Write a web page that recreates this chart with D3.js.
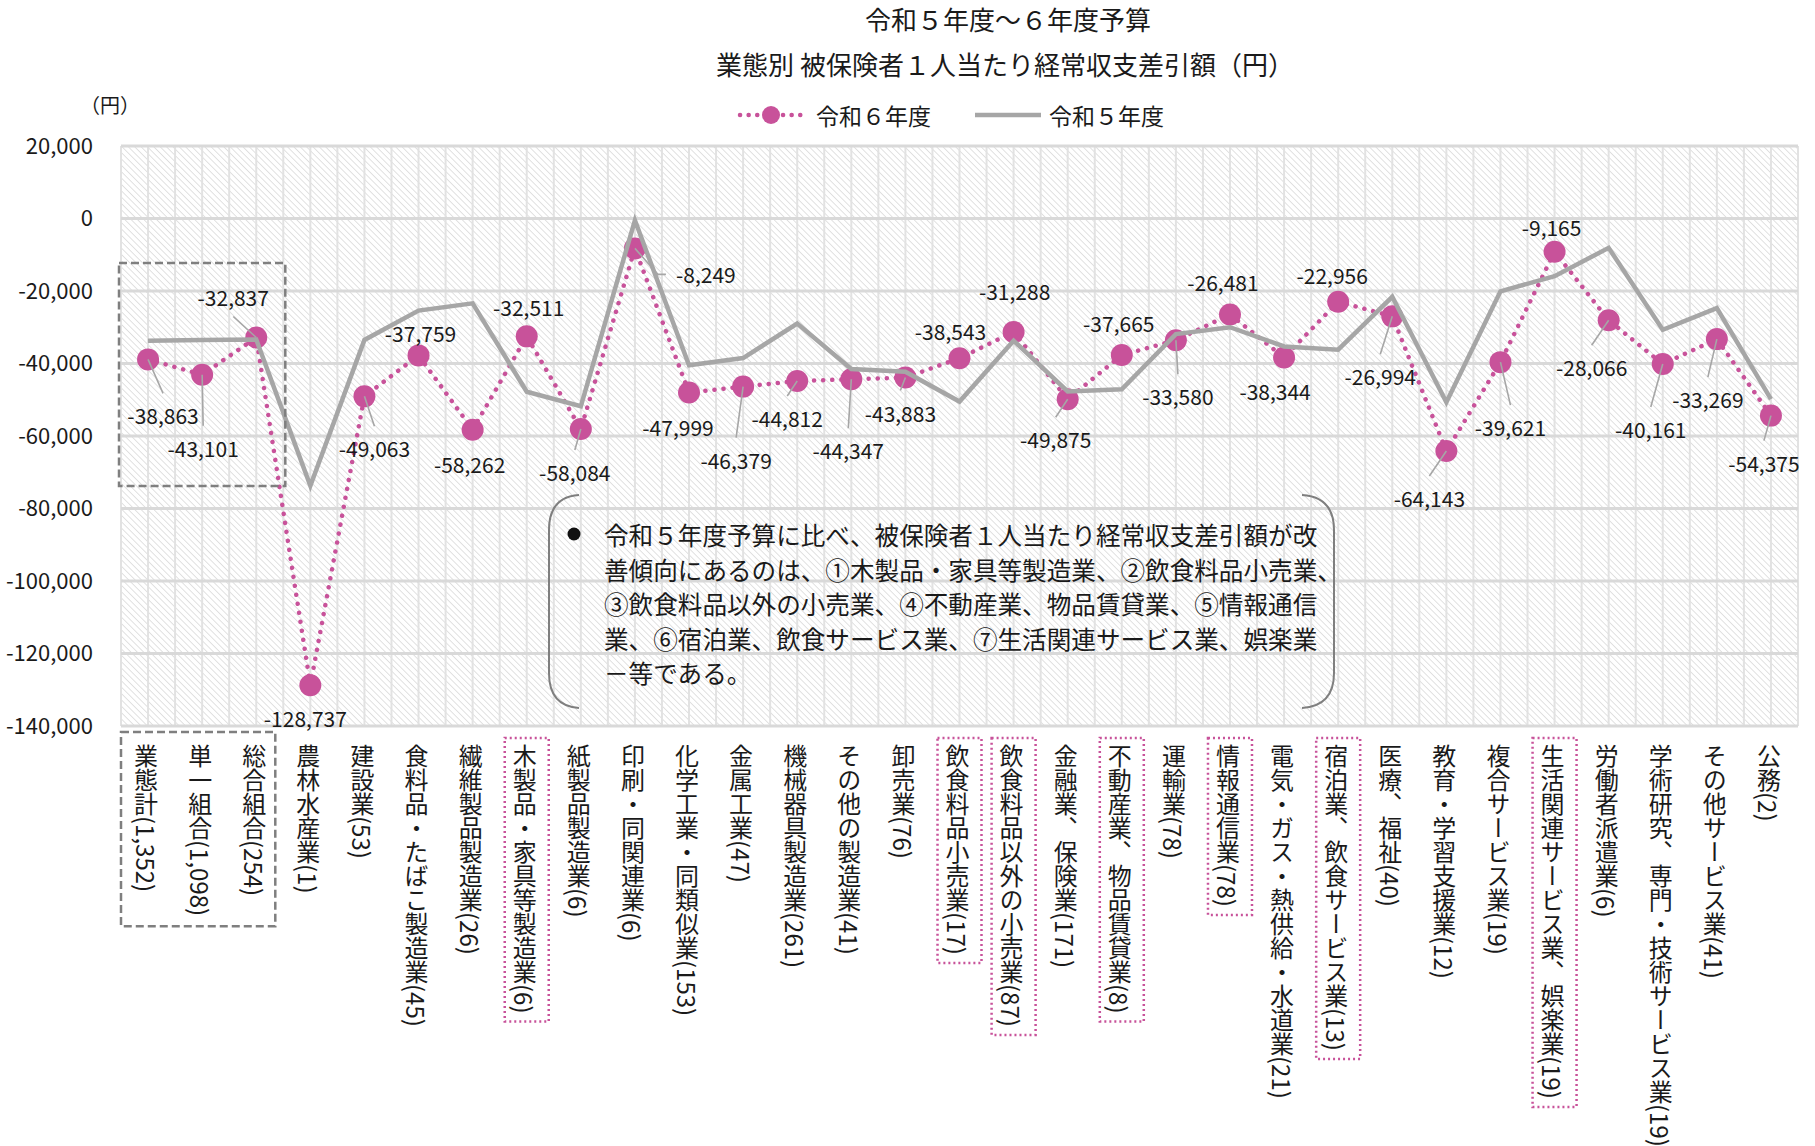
<!DOCTYPE html>
<html>
<head>
<meta charset="utf-8">
<script src="https://cdn.jsdelivr.net/npm/d3@7/dist/d3.min.js"></script>
<style>
  html, body { margin: 0; padding: 0; background: #fff; }
  svg text { font-family: "Noto Sans CJK JP", "Noto Sans", sans-serif; fill: #1a1a1a; }
  .vlabel { writing-mode: vertical-rl; }
</style>
</head>
<body>
<svg id="chart" width="1815" height="1146"></svg>
<script>
// ── データ ──────────────────────────────────────────
const categories = [
  '業態計', '単一組合', '総合組合', '農林水産業', '建設業', '食料品・たばこ製造業',
  '繊維製品製造業', '木製品・家具等製造業', '紙製品製造業', '印刷・同関連業',
  '化学工業・同類似業', '金属工業', '機械器具製造業', 'その他の製造業', '卸売業',
  '飲食料品小売業', '飲食料品以外の小売業', '金融業、保険業', '不動産業、物品賃貸業',
  '運輸業', '情報通信業', '電気・ガス・熱供給・水道業', '宿泊業、飲食サービス業',
  '医療、福祉', '教育・学習支援業', '複合サービス業', '生活関連サービス業、娯楽業',
  '労働者派遣業', '学術研究、専門・技術サービス業', 'その他サービス業', '公務'
];
const counts = [
  '1,352', '1,098', '254', '1', '53', '45', '26', '6', '6', '6', '153', '47', '261', '41', '76',
  '17', '87', '171', '8', '78', '78', '21', '13', '40', '12', '19', '19', '6', '19', '41', '2'
];
// 令和6年度
const r6 = [
  -38863, -43101, -32837, -128737, -49063, -37759, -58262, -32511, -58084, -8249,
  -47999, -46379, -44812, -44347, -43883, -38543, -31288, -49875, -37665, -33580,
  -26481, -38344, -22956, -26994, -64143, -39621, -9165, -28066, -40161, -33269, -54375
];
// 令和5年度
const r5 = [
  -33700, -33500, -33400, -73700, -33500, -25400, -23400, -47800, -51800, -500,
  -40500, -38500, -29000, -41500, -42300, -50500, -33700, -47700, -47100, -31900,
  -30000, -35300, -36200, -21600, -50700, -20100, -15900, -8100, -30700, -24700, -49800
];
// 改善傾向の業態
const highlighted = [
  '木製品・家具等製造業', '飲食料品小売業', '飲食料品以外の小売業', '不動産業、物品賃貸業',
  '情報通信業', '宿泊業、飲食サービス業', '生活関連サービス業、娯楽業'
];
const groupedCats = ['業態計', '単一組合', '総合組合'];
const yTicks = [20000, 0, -20000, -40000, -60000, -80000, -100000, -120000, -140000];
const yTickLabels = ['20,000', '0', '-20,000', '-40,000', '-60,000', '-80,000', '-100,000', '-120,000', '-140,000'];
const seriesNames = ['令和６年度', '令和５年度'];
const noteLines = [
  '令和５年度予算に比べ、被保険者１人当たり経常収支差引額が改',
  '善傾向にあるのは、①木製品・家具等製造業、②飲食料品小売業、',
  '③飲食料品以外の小売業、④不動産業、物品賃貸業、⑤情報通信',
  '業、⑥宿泊業、飲食サービス業、⑦生活関連サービス業、娯楽業',
  '－等である。'
];

// データラベルの配置 [dx, dy, 引出線]
const labelOffsets = [
  [15, 56, 1], [1, 73, 1], [-23, -41, 1], [-5, 33, 0], [10, 52, 1], [2, -22, 0],
  [-3, 34, 0], [2, -29, 0], [-6, 43, 1], [71, 26, 2], [-11, 35, 0], [-7, 73, 1],
  [-10, 37, 1], [-3, 71, 1], [-5, 35, 1], [-9, -27, 0], [1, -41, 0], [-12, 40, 1],
  [-3, -32, 0], [2, 56, 1], [-7, -32, 0], [-9, 34, 0], [-6, -27, 0], [-12, 60, 1],
  [-17, 47, 1], [10, 65, 1], [-3, -25, 0], [-17, 47, 1], [-12, 65, 1], [-9, 60, 1], [-7, 47, 1]
];

// ── レイアウト ──────────────────────────────────────
const PINK = '#c8529a', GRAY = '#a6a6a6';
const plot = { left: 121, right: 1798, top: 146, bottom: 726 };
const svg = d3.select('#chart');
const fmt = d3.formatLocale({ decimal: '.', thousands: ',', grouping: [3], currency: ['', ''], minus: '-' }).format(',');

const x = d3.scaleBand().domain(categories).range([plot.left, plot.right]).padding(0);
const y = d3.scaleLinear().domain([-140000, 20000]).range([plot.bottom, plot.top]);
const cx = d => x(d) + x.bandwidth() / 2;

// 背景の斜線パターン
const defs = svg.append('defs');
const pat = defs.append('pattern').attr('id', 'hatch')
  .attr('patternUnits', 'userSpaceOnUse').attr('width', 4.5).attr('height', 4.5)
  .attr('patternTransform', 'rotate(-45)');
pat.append('line').attr('x1', 0).attr('y1', 0).attr('x2', 0).attr('y2', 4.5)
  .attr('stroke', '#cdcdcd').attr('stroke-width', 1.2);

svg.append('rect')
  .attr('x', plot.left).attr('y', plot.top)
  .attr('width', plot.right - plot.left).attr('height', plot.bottom - plot.top)
  .attr('fill', 'url(#hatch)');

// 縦のグリッド（区分の境界と中心）
const vLines = [];
categories.forEach(c => { vLines.push(x(c)); vLines.push(cx(c)); });
vLines.push(plot.right);
svg.append('g').selectAll('line').data(vLines).join('line')
  .attr('x1', d => d).attr('x2', d => d)
  .attr('y1', plot.top).attr('y2', plot.bottom)
  .attr('stroke', '#e2e2e2').attr('stroke-width', 2);

// 横のグリッド
svg.append('g').selectAll('line').data(yTicks).join('line')
  .attr('x1', plot.left).attr('x2', plot.right)
  .attr('y1', d => y(d)).attr('y2', d => y(d))
  .attr('stroke', '#d9d9d9').attr('stroke-width', 3);

// Y軸
svg.append('g').attr('transform', `translate(${plot.left},0)`)
  .call(d3.axisLeft(y).tickValues(yTicks).tickFormat((d, i) => yTickLabels[i]).tickSize(0).tickPadding(28))
  .call(g => g.select('.domain').remove())
  .selectAll('text').attr('font-size', 22).attr('fill', '#1a1a1a')
  .style('font-family', '"Noto Sans CJK JP", sans-serif');

svg.append('text').attr('x', 110).attr('y', 104).attr('text-anchor', 'middle')
  .attr('dominant-baseline', 'central').attr('font-size', 20).text('（円）');

// タイトル
svg.append('text').attr('x', 1008).attr('y', 18).attr('text-anchor', 'middle')
  .attr('dominant-baseline', 'central').attr('font-size', 26).text('令和５年度～６年度予算');
svg.append('text').attr('x', 1005).attr('y', 63).attr('text-anchor', 'middle')
  .attr('dominant-baseline', 'central').attr('font-size', 26).text('業態別 被保険者１人当たり経常収支差引額（円）');

// 凡例
const lg = svg.append('g');
lg.append('line').attr('x1', 740).attr('x2', 802).attr('y1', 115).attr('y2', 115)
  .attr('stroke', PINK).attr('stroke-width', 4.5).attr('stroke-dasharray', '0.1 8.5').attr('stroke-linecap', 'round');
lg.append('circle').attr('cx', 771).attr('cy', 115).attr('r', 9).attr('fill', PINK);
lg.append('text').attr('x', 816).attr('y', 115).attr('dominant-baseline', 'central').attr('font-size', 23).text(seriesNames[0]);
lg.append('line').attr('x1', 975).attr('x2', 1041).attr('y1', 115).attr('y2', 115)
  .attr('stroke', GRAY).attr('stroke-width', 4.5);
lg.append('text').attr('x', 1049).attr('y', 115).attr('dominant-baseline', 'central').attr('font-size', 23).text(seriesNames[1]);

// 令和6年度（点線＋マーカー）
const line = d3.line().x((d, i) => cx(categories[i])).y(d => y(d));
svg.append('path').datum(r6).attr('d', line).attr('fill', 'none')
  .attr('stroke', PINK).attr('stroke-width', 4.5)
  .attr('stroke-dasharray', '0.1 9').attr('stroke-linecap', 'round');
svg.append('g').selectAll('circle').data(r6).join('circle')
  .attr('cx', (d, i) => cx(categories[i])).attr('cy', d => y(d))
  .attr('r', 11).attr('fill', PINK);

// 令和5年度（実線）
svg.append('path').datum(r5).attr('d', line).attr('fill', 'none')
  .attr('stroke', GRAY).attr('stroke-width', 4.5).attr('stroke-linejoin', 'miter');

// データラベルと引出線
const lab = r6.map((v, i) => {
  const px = cx(categories[i]), py = y(v);
  const [dx, dy, leader] = labelOffsets[i];
  return { v, px, py, lx: px + dx, ly: py + dy, leader };
});
const leaders = svg.append('g');
lab.filter(d => d.leader).forEach(d => {
  if (d.leader === 2) {
    const ex = d.lx - 40;
    leaders.append('polyline')
      .attr('points', `${d.px},${d.py} ${ex - 8},${d.ly} ${ex},${d.ly}`)
      .attr('fill', 'none').attr('stroke', GRAY).attr('stroke-width', 1.6);
  } else {
    const ey = d.ly + (d.ly > d.py ? -22 : 20);
    leaders.append('line').attr('x1', d.px).attr('y1', d.py).attr('x2', d.lx).attr('y2', ey)
      .attr('stroke', GRAY).attr('stroke-width', 1.6);
  }
});
svg.append('g').selectAll('text').data(lab).join('text')
  .attr('x', d => d.lx).attr('y', d => d.ly)
  .attr('text-anchor', 'middle').attr('dominant-baseline', 'central')
  .attr('font-size', 21).text(d => fmt(d.v));

// 業態計の破線枠（プロット内）
const g0 = x(groupedCats[0]), g1 = x(groupedCats[2]) + x.bandwidth();
svg.append('rect').attr('x', g0 - 2).attr('y', 263).attr('width', g1 - g0 + 4).attr('height', 223)
  .attr('fill', 'none').attr('stroke', '#7f7f7f').attr('stroke-width', 2.5).attr('stroke-dasharray', '8 4');

// X軸ラベル（縦書き）
const xl = svg.append('g');
xl.selectAll('text').data(categories).join('text')
  .attr('class', 'vlabel')
  .attr('x', d => cx(d) - 2).attr('y', 744)
  .attr('font-size', 24)
  .text((d, i) => `${d}(${counts[i]})`);

// 改善業態の点線枠
xl.selectAll('text').each(function (d) {
  if (!highlighted.includes(d)) return;
  const b = this.getBBox();
  xl.append('rect').attr('x', cx(d) - 22).attr('y', b.y - 6)
    .attr('width', 44).attr('height', b.height + 14)
    .attr('fill', 'none').attr('stroke', PINK).attr('stroke-width', 2.5).attr('stroke-dasharray', '2 3');
});
// 業態計・単一・総合の破線枠
let maxH = 0;
xl.selectAll('text').each(function (d) { if (groupedCats.includes(d)) maxH = Math.max(maxH, this.getBBox().y + this.getBBox().height); });
svg.append('rect').attr('x', g0).attr('y', 732).attr('width', g1 - g0 - 8).attr('height', maxH - 732 + 10)
  .attr('fill', 'none').attr('stroke', '#7f7f7f').attr('stroke-width', 2.5).attr('stroke-dasharray', '8 4');

// 注記（括弧形の枠）
const note = svg.append('g');
note.append('path').attr('d', 'M579,495 Q549,497 549,530 L549,673 Q549,706 579,708')
  .attr('fill', 'none').attr('stroke', '#7f7f7f').attr('stroke-width', 2);
note.append('path').attr('d', 'M1302,495 Q1334,497 1334,530 L1334,673 Q1334,706 1302,708')
  .attr('fill', 'none').attr('stroke', '#7f7f7f').attr('stroke-width', 2);
note.append('circle').attr('cx', 574).attr('cy', 534).attr('r', 6.5).attr('fill', '#111');
note.selectAll('text').data(noteLines).join('text')
  .attr('x', 604).attr('y', (d, i) => 534 + i * 34.5)
  .attr('dominant-baseline', 'central').attr('font-size', 24.6).text(d => d);
</script>
</body>
</html>
